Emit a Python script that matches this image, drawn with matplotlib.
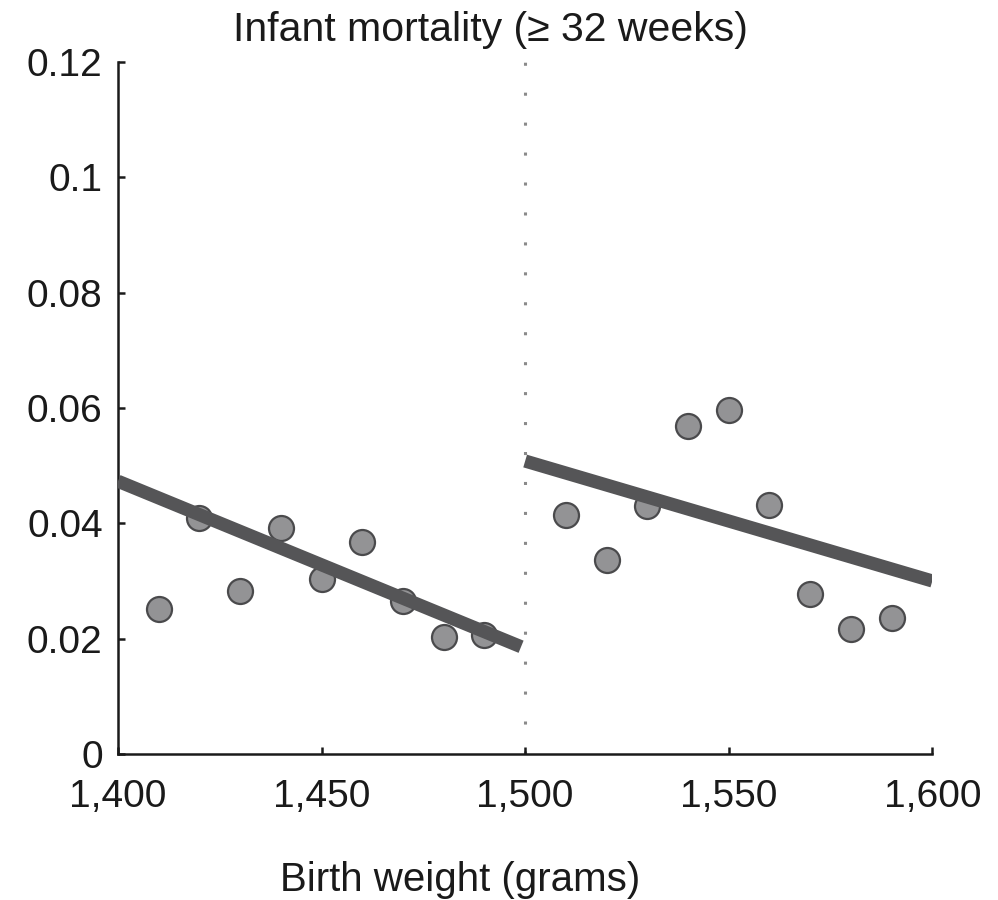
import numpy as np
import matplotlib.pyplot as plt
from matplotlib.ticker import FuncFormatter

plt.rcParams['font.family'] = ['Liberation Sans', 'DejaVu Sans']

# binned infant mortality, below and above the 1,500 g cutoff
weight_below = [1410, 1420, 1430, 1440, 1450, 1460, 1470, 1480, 1490]
mort_below = [0.0251, 0.0409, 0.0283, 0.0392, 0.0303, 0.0367, 0.0265, 0.0203, 0.0206]
weight_above = [1510, 1520, 1530, 1540, 1550, 1560, 1570, 1580, 1590]
mort_above = [0.0415, 0.0336, 0.0430, 0.0569, 0.0597, 0.0431, 0.0278, 0.0216, 0.0236]

# fitted lines (endpoints)
fit_below_x = [1400, 1499]
fit_below_y = [0.0473, 0.0186]
fit_above_x = [1500, 1600]
fit_above_y = [0.0508, 0.0300]

cutoff = 1500
xticks = [1400, 1450, 1500, 1550, 1600]
yticks = [0, 0.02, 0.04, 0.06, 0.08, 0.1, 0.12]

fig = plt.figure(figsize=(9.98, 9.0), dpi=100)
ax = fig.add_axes([0.1182, 0.1622, 0.816, 0.769])

ax.plot([cutoff, cutoff], [0, 0.12], color='#8a8a8a', lw=2.2,
        linestyle=(0, (1, 8.8)), zorder=1)

ax.plot(fit_below_x, fit_below_y, color='#555557', lw=9.5,
        solid_capstyle='butt', zorder=3)
ax.plot(fit_above_x, fit_above_y, color='#555557', lw=9.5,
        solid_capstyle='butt', zorder=3)

ax.plot(weight_below, mort_below, 'o', ms=18, mfc='#939395', mec='#4a4a4c',
        mew=1.6, zorder=2)
ax.plot(weight_above, mort_above, 'o', ms=18, mfc='#939395', mec='#4a4a4c',
        mew=1.6, zorder=2)

ax.set_xlim(1400, 1600)
ax.set_ylim(0, 0.12)
ax.set_xticks(xticks)
ax.set_yticks(yticks)
ax.xaxis.set_major_formatter(FuncFormatter(lambda v, p: f'{int(v):,}'))
ax.yaxis.set_major_formatter(FuncFormatter(lambda v, p: '0' if v == 0 else f'{v:g}'))

for side in ['top', 'right']:
    ax.spines[side].set_visible(False)
for side in ['left', 'bottom']:
    ax.spines[side].set_linewidth(1.8)
    ax.spines[side].set_color('#1a1a1a')

ax.tick_params(axis='both', direction='in', length=5, width=1.8,
               color='#1a1a1a', labelsize=28, labelcolor='#1a1a1a')
ax.tick_params(axis='y', pad=11)
ax.tick_params(axis='x', pad=18)

fig.text(490 / 998, 1 - 30 / 900, 'Infant mortality (\u2265 32 weeks)',
         ha='center', va='center', fontsize=29.5, color='#1a1a1a')
fig.text(460 / 998, 1 - 880 / 900, 'Birth weight (grams)',
         ha='center', va='center', fontsize=29, color='#1a1a1a')

fig.savefig('out.png', dpi=100, facecolor='white')
